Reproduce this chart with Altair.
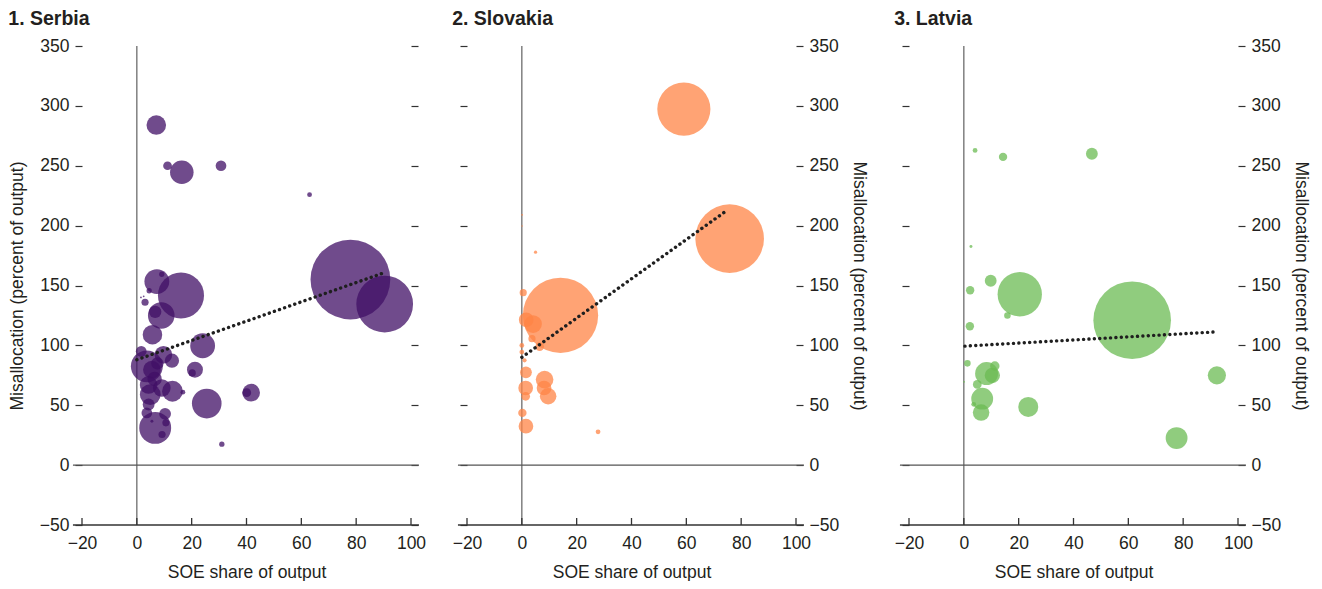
import altair as alt
import pandas as pd

FONT = "Liberation Sans"

# ---------------- data ----------------
serbia_x = [7.1, 16.4, 11.2, 30.7, 63.0, 77.9, 90.4, 16.1, 7.3, 9.1, 4.5, 3.0, 1.5, 2.5,
            8.9, 6.7, 5.7, 24.0, 9.7, 12.8, 3.65, 1.6, 5.5, 21.2, 20.2, 4.3, 9.1, 13.0,
            16.8, 4.9, 25.5, 41.7, 40.1, 4.3, 3.65, 10.3, 10.6, 5.5, 6.7, 9.2, 31.0, 6.5, 7.5]
serbia_y = [284, 244.6, 250, 250, 225.8, 155, 134.5, 141.7, 153.3, 159.4, 145.6, 136, 140, 141,
            125, 128, 108.9, 99.7, 92.2, 87.2, 82.5, 95, 79.7, 79.7, 77, 67, 64.4, 61.7,
            60.9, 58.9, 51.4, 60.5, 60.5, 50.6, 43.6, 42.8, 35.3, 36.7, 31.1, 25.6, 17.5, 72, 85]
serbia_w = [6.0, 8.7, 1.2, 1.8, 0.36, 100, 50.6, 33.4, 9.7, 0.44, 0.44, 0.8, 0.05, 0.05,
            11.1, 2.4, 6.0, 9.7, 4.9, 3.2, 16.0, 1.8, 4.9, 4.0, 0.8, 4.9, 4.9, 6.8,
            0.36, 6.8, 13.8, 4.9, 1.2, 2.2, 1.8, 2.2, 0.8, 0.14, 16.0, 0.8, 0.44, 3.2, 2.4]
serbia_fit_x = [0, 90]
serbia_fit_y = [88, 160.5]

slovakia_x = [59.1, 75.8, 14.1, 5.0, 0.1, 0.1, 27.8, 0.5, 1.6, 4.1, 3.7, 6.5, 0.0, 0.0,
              1.0, 1.5, 1.4, 1.4, 8.3, 8.1, 9.6, 0.2, 1.5]
slovakia_y = [297.3, 189.1, 125.1, 177.8, 209, 199.7, 27.8, 144, 121.4, 117.8, 105.6, 99, 100, 94.4,
              87.5, 77.5, 64.4, 57.5, 71.4, 64.4, 57.5, 43.6, 32.5]
slovakia_w = [44.4, 74.0, 89.2, 0.16, 0.05, 0.03, 0.36, 0.8, 3.4, 4.9, 0.8, 1.2, 0.36, 0.36,
              0.26, 2.2, 3.4, 1.2, 4.9, 3.4, 4.3, 1.1, 3.4]
slovakia_fit_x = [0, 75]
slovakia_fit_y = [90, 213]

latvia_x = [61.4, 20.4, 46.7, 14.3, 4.1, 2.6, 9.8, 2.3, 15.9, 2.2, 1.3, 92.3, 77.6, 23.5,
            8.3, 10.4, 11.3, 4.9, 6.7, 6.3, 3.6, 0.1]
latvia_y = [121, 142.7, 260, 257.4, 262.8, 182.5, 154, 146, 125, 116, 85, 75, 22.6, 48.6,
            76.5, 75, 82.8, 67.4, 55.5, 43.9, 50.8, 69.6]
latvia_w = [94.7, 30.9, 2.2, 1.1, 0.36, 0.14, 2.2, 1.1, 0.68, 1.1, 0.68, 5.2, 7.5, 6.3,
            8.3, 3.7, 1.4, 1.2, 7.5, 4.3, 0.36, 0.05]
latvia_fit_x = [0.4, 92.1]
latvia_fit_y = [99.4, 111.3]

x_ticks = [-20, 0, 20, 40, 60, 80, 100]
y_ticks = [-50, 0, 50, 100, 150, 200, 250, 300, 350]

# ---------------- styling ----------------
W, H = 329, 479
XDOM = [-20, 100]
YDOM = [-50, 350]
FS = 17.5
TXT = "#231f20"
xs = alt.Scale(domain=XDOM, nice=False, zero=False)
ys = alt.Scale(domain=YDOM, nice=False, zero=False)
size_scale = alt.Scale(type="linear", domain=[0, 100], range=[0, 6362], zero=True)


def panel(title, xv, yv, wv, fx, fy, color, label_side):
    pts = pd.DataFrame({"x": xv, "y": yv, "w": wv})
    fit = pd.DataFrame({"x": fx, "y": fy})
    tick_df = pd.DataFrame({"x": x_ticks, "y": [YDOM[0]] * len(x_ticks)})

    left_labels = label_side == "left"
    left_axis = alt.Axis(orient="left", values=y_ticks, domain=False, grid=False,
                         ticks=True, tickSize=7, tickColor="#333", tickWidth=1.2,
                         labels=left_labels, labelFontSize=FS, labelFont=FONT,
                         labelColor=TXT, labelPadding=6,
                         title="Misallocation (percent of output)" if left_labels else None,
                         titleFontSize=FS, titleFont=FONT, titleFontWeight="normal",
                         titleColor=TXT, titlePadding=13)
    right_axis = alt.Axis(orient="right", values=y_ticks, domain=False, grid=False,
                          ticks=True, tickSize=7, tickColor="#333", tickWidth=1.2,
                          labels=not left_labels, labelFontSize=FS, labelFont=FONT,
                          labelColor=TXT, labelPadding=6,
                          title=None if left_labels else "Misallocation (percent of output)",
                          titleFontSize=FS, titleFont=FONT, titleFontWeight="normal",
                          titleColor=TXT, titlePadding=11)
    bottom_axis = alt.Axis(orient="bottom", values=x_ticks, domain=False, grid=False,
                           ticks=False, labelFlush=False, labelFontSize=FS, labelFont=FONT,
                           labelColor=TXT, labelPadding=9,
                           title="SOE share of output", titleFontSize=FS, titleFont=FONT,
                           titleFontWeight="normal", titleColor=TXT, titlePadding=12)

    vline = alt.Chart(pd.DataFrame({"x": [0], "y": [YDOM[0]], "y2": [YDOM[1]]})).mark_rule(
        color="#6d6d6d", strokeWidth=1.3
    ).encode(x=alt.X("x:Q", scale=xs, axis=None), y=alt.Y("y:Q", scale=ys, axis=None), y2="y2:Q")

    hlines = alt.Chart(pd.DataFrame({"x": [-23.3, -23.3], "x2": [102.9, 102.9], "y": [0, -50],
                                     "c": ["zero", "base"]})).mark_rule().encode(
        x=alt.X("x:Q", scale=xs, axis=None), x2="x2:Q",
        y=alt.Y("y:Q", scale=ys, axis=None),
        color=alt.Color("c:N", scale=alt.Scale(domain=["zero", "base"], range=["#555555", "#333333"]), legend=None),
        strokeWidth=alt.StrokeWidth("c:N", scale=alt.Scale(domain=["zero", "base"], range=[1.2, 1.6]), legend=None),
    )

    # small upward tick marks on the baseline at each x tick value
    xticks = alt.Chart(tick_df).mark_rule(color="#333333", strokeWidth=1.3).encode(
        x=alt.X("x:Q", scale=xs, axis=None),
        y=alt.Y("y:Q", scale=ys, axis=None),
        y2=alt.value(H - 7),
    )

    bubbles = alt.Chart(pts).mark_circle(color=color, opacity=0.75).encode(
        x=alt.X("x:Q", scale=xs, axis=bottom_axis),
        y=alt.Y("y:Q", scale=ys, axis=left_axis),
        size=alt.Size("w:Q", scale=size_scale, legend=None),
    )

    line = alt.Chart(fit).mark_line(color="#1f1f1f", strokeWidth=3.4, strokeDash=[0.1, 5.3],
                                    strokeCap="round").encode(
        x=alt.X("x:Q", scale=xs, axis=None),
        y=alt.Y("y:Q", scale=ys, axis=right_axis),
    )

    return alt.layer(vline, hlines, xticks, bubbles, line).resolve_axis(
        x="independent", y="independent"
    ).properties(
        width=W, height=H,
        title=alt.TitleParams(title, anchor="start", frame="bounds", fontSize=19.5,
                              fontWeight="bold", font=FONT, color=TXT, offset=8),
    )


p1 = panel("1. Serbia", serbia_x, serbia_y, serbia_w, serbia_fit_x, serbia_fit_y, "#400f66", "left")
p2 = panel("2. Slovakia", slovakia_x, slovakia_y, slovakia_w, slovakia_fit_x, slovakia_fit_y, "#ff8446", "right")
p3 = panel("3. Latvia", latvia_x, latvia_y, latvia_w, latvia_fit_x, latvia_fit_y, "#6bbb53", "right")

chart = alt.hconcat(p1, p2, p3, spacing=26).properties(
    padding={"left": 0, "top": 0, "right": 3, "bottom": 0},
    background="white",
).configure_view(strokeWidth=0, stroke="transparent")

chart.save("out.html", embed_options={"renderer": "svg", "actions": False})
